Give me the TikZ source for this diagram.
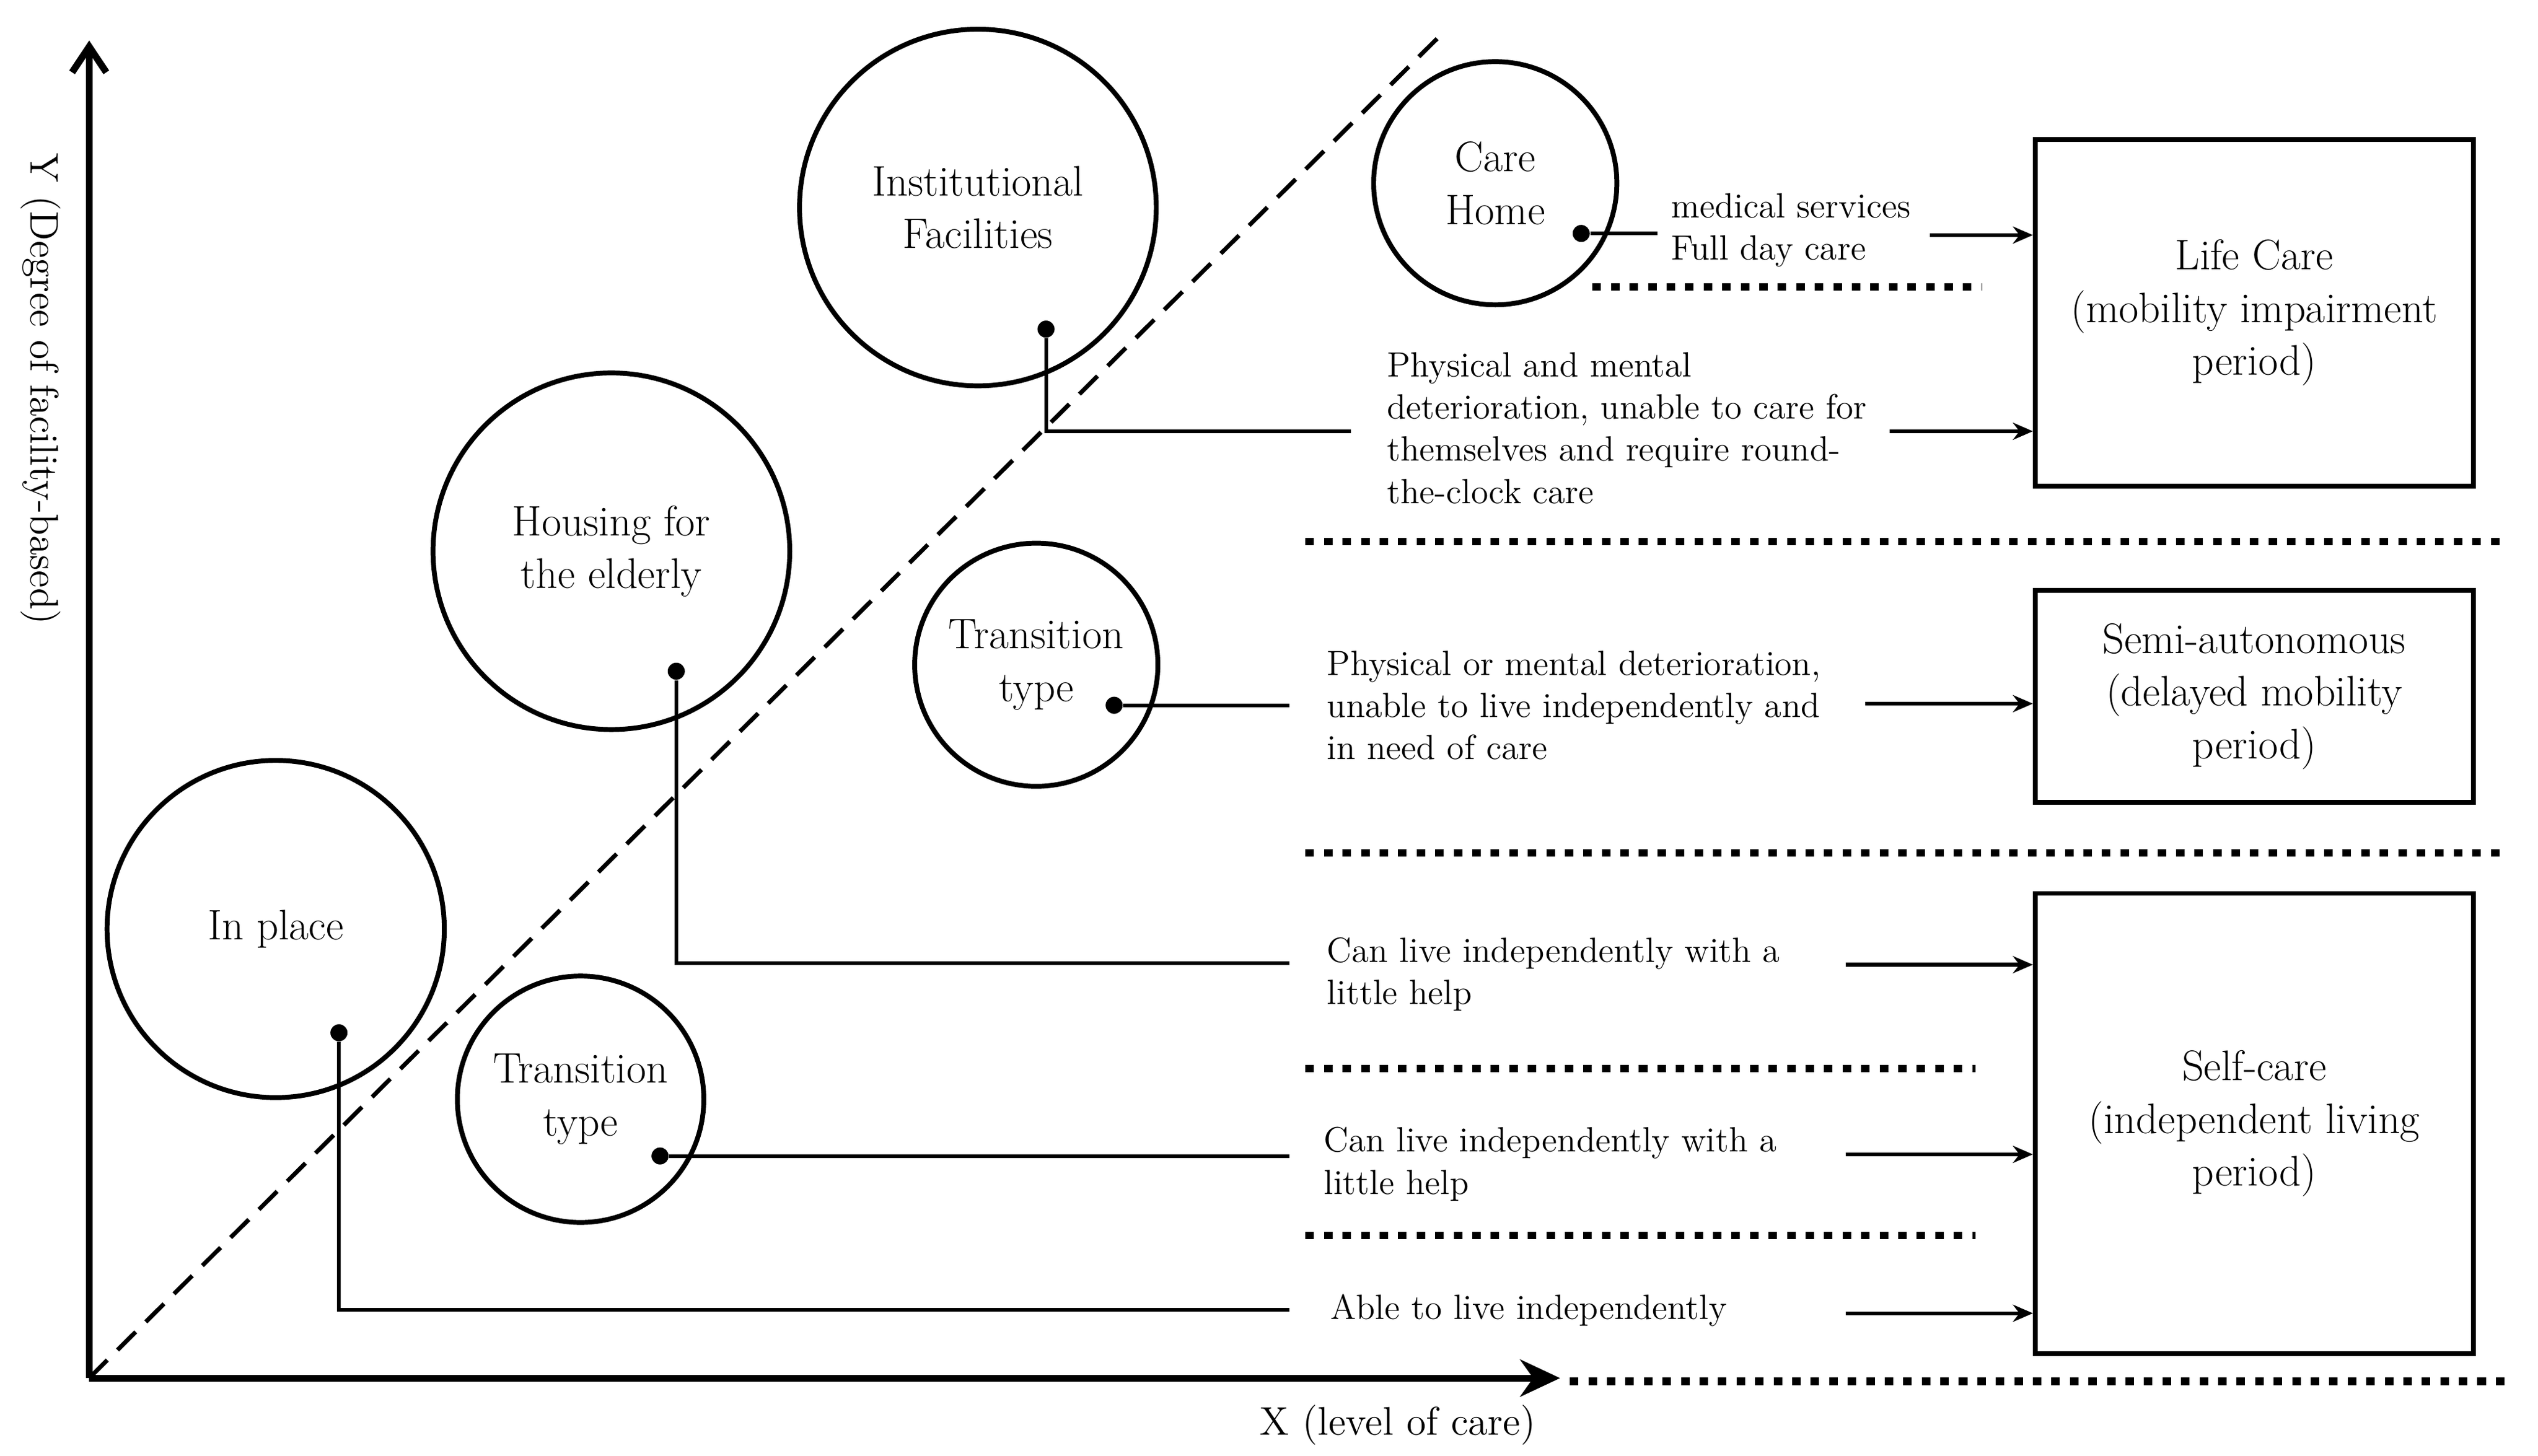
\documentclass[tikz,border=0pt]{standalone}
\usetikzlibrary{arrows.meta}
\begin{document}
\begin{tikzpicture}[x=0.02cm,y=-0.02cm,
 circ/.style={circle,draw,line width=1.7pt,inner sep=0pt,align=center,font=\fontsize{15}{18.5}\selectfont},
 box/.style={draw,line width=1.7pt,inner sep=0pt,align=center,font=\fontsize{15}{18.5}\selectfont},
 txt/.style={anchor=west,align=left,font=\fontsize{12.3}{14.8}\selectfont,inner sep=0pt},
 conn/.style={line width=1.3pt},
 arr/.style={line width=1.3pt,-{Stealth[length=7pt,width=6pt]}},
 dots/.style={line width=2.6pt,dash pattern=on 3pt off 3.5pt},
 dot/.style={circle,fill,inner sep=0pt,minimum size=6pt}]
\useasboundingbox (0,0) rectangle (1565,898);
% axes
\coordinate (O) at (55,850);
\coordinate (Ytop) at (55,25);
\coordinate (Xend) at (962,850);
\draw[line width=2.4pt,-{Straight Barb[length=9pt,width=12pt]}] (O) -- (Ytop);
\draw[line width=2.4pt,-{Stealth[length=14pt,width=13pt]}] (O) -- (Xend);
\coordinate (D) at (888,22);
\draw[line width=1.5pt,dash pattern=on 9pt off 5pt] (O) -- (D);
\node[rotate=-90,font=\fontsize{14}{17}\selectfont] (ylab) at (25,240) {Y (Degree of facility-based)};
\node[font=\fontsize{14}{17}\selectfont] (xlab) at (862,879) {X (level of care)};
% circles
\node[circ,minimum size=4.4cm] (inst) at (603,128) {Institutional\\Facilities};
\node[circ,minimum size=3cm] (care) at (922,113) {Care\\Home};
\node[circ,minimum size=4.4cm] (house) at (377,340) {Housing for\\the elderly};
\node[circ,minimum size=3cm] (tr1) at (639,410) {Transition\\type};
\node[circ,minimum size=4.16cm] (inpl) at (170,573) {In place};
\node[circ,minimum size=3.04cm] (tr2) at (358,678) {Transition\\type};
% boxes
\node[box,minimum width=5.4cm,minimum height=4.28cm] (life) at (1390,193) {Life Care\\(mobility impairment\\period)};
\node[box,minimum width=5.4cm,minimum height=2.62cm] (semi) at (1390,429.5) {Semi-autonomous\\(delayed mobility\\period)};
\node[box,minimum width=5.4cm,minimum height=5.68cm] (self) at (1390,693) {Self-care\\(independent living\\period)};
% care home
\node[dot] (d1) at (975,144) {};
\coordinate (e1) at (1022,144);
\draw[conn] (d1) -- (e1);
\node[txt] (t1) at (1030,142) {medical services\\Full day care};
\coordinate (a1) at (1190,145);
\draw[arr] (a1) -- (a1 -| life.west);
% institutional
\node[dot] (d2) at (645,203) {};
\coordinate (k2) at (645,266); \coordinate (e2) at (833,266);
\draw[conn] (d2) -- (k2) -- (e2);
\node[txt] (t2) at (855,264) {Physical and mental\\deterioration, unable to care for\\themselves and require round-\\the-clock care};
\coordinate (a2) at (1165,266);
\draw[arr] (a2) -- (a2 -| life.west);
% transition 1
\node[dot] (d3) at (687,435) {};
\coordinate (e3) at (795,435);
\draw[conn] (d3) -- (e3);
\node[txt] (t3) at (818,435) {Physical or mental deterioration,\\unable to live independently and\\in need of care};
\coordinate (a3) at (1150,434);
\draw[arr] (a3) -- (a3 -| semi.west);
% housing
\node[dot] (d4) at (417,414) {};
\coordinate (k4) at (417,594); \coordinate (e4) at (795,594);
\draw[conn] (d4) -- (k4) -- (e4);
\node[txt] (t4) at (818,601) {Can live independently with a\\little help};
\coordinate (a4) at (1138,595);
\draw[arr] (a4) -- (a4 -| self.west);
% transition 2
\node[dot] (d5) at (407,713) {};
\coordinate (e5) at (795,713);
\draw[conn] (d5) -- (e5);
\node[txt] (t5) at (816,718) {Can live independently with a\\little help};
\coordinate (a5) at (1138,712);
\draw[arr] (a5) -- (a5 -| self.west);
% in place
\node[dot] (d6) at (209,637) {};
\coordinate (k6) at (209,808); \coordinate (e6) at (795,808);
\draw[conn] (d6) -- (k6) -- (e6);
\node[txt] (t6) at (820,808) {Able to live independently};
\coordinate (a6) at (1138,810);
\draw[arr] (a6) -- (a6 -| self.west);
% dotted separators
\draw[dots] (982,177) -- (1222,177);
\draw[dots] (805,334) -- (1545,334);
\draw[dots] (805,526) -- (1545,526);
\draw[dots] (805,659) -- (1218,659);
\draw[dots] (805,762) -- (1218,762);
\draw[dots] (968,852) -- (1545,852);
\end{tikzpicture}
\end{document}
